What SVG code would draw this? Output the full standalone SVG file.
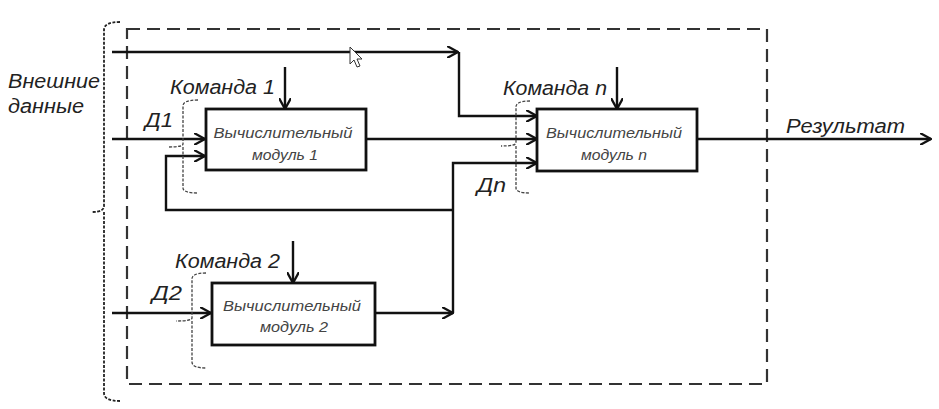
<svg xmlns="http://www.w3.org/2000/svg" width="939" height="409" viewBox="0 0 939 409">
<style>
.ln{fill:none;stroke:#111;stroke-width:2.4}
.box{fill:#fff;stroke:#111;stroke-width:2.8}
.dash{fill:none;stroke:#333;stroke-width:2.2;stroke-dasharray:13 7}
.dot{fill:none;stroke:#444;stroke-width:1.3;stroke-dasharray:3 1.5}
.odot{fill:none;stroke:#222;stroke-width:1.8;stroke-dasharray:3 1.5}
.lbl{font-family:"Liberation Sans",Arial,sans-serif;font-style:italic;font-size:20px;fill:#222}
.mod{font-family:"Liberation Sans",Arial,sans-serif;font-style:italic;font-size:15px;fill:#444;text-anchor:middle}
</style>
<defs>
<marker id="arr" viewBox="0 0 12 12" refX="11" refY="6" markerWidth="12" markerHeight="12" markerUnits="userSpaceOnUse" orient="auto">
<path d="M0,0 L11,6 L0,12" fill="none" stroke="#111" stroke-width="2.3"/>
</marker>
</defs>
<rect width="939" height="409" fill="#fff"/>
<g id="boundary">
<rect class="dash" x="127" y="29" width="640" height="355"/>
<path class="odot" d="M120,22 Q104,22 104,30 L104,206 Q104,212 92,212 M104,212 L104,393 Q104,401 120,401"/>
</g>
<g id="connectors">
<path class="ln" d="M112,52 L458,52" marker-end="url(#arr)"/>
<path class="ln" d="M459,52 L459,116 L537,116" marker-end="url(#arr)"/>
<path class="ln" d="M112,139 L205,139" marker-end="url(#arr)"/>
<path class="ln" d="M453,210 L166,210 L166,156 L205,156" marker-end="url(#arr)"/>
<path class="ln" d="M366,139 L537,139" marker-end="url(#arr)"/>
<path class="ln" d="M453,313 L453,163 L537,163" marker-end="url(#arr)"/>
<path class="ln" d="M375,313 L453,313" marker-end="url(#arr)"/>
<path class="ln" d="M112,313 L211,313" marker-end="url(#arr)"/>
<path class="ln" d="M697,139 L931,139" marker-end="url(#arr)"/>
<path class="ln" d="M285,67 L285,109" marker-end="url(#arr)"/>
<path class="ln" d="M617,67 L617,109" marker-end="url(#arr)"/>
<path class="ln" d="M293,241 L293,283" marker-end="url(#arr)"/>
<path class="dot" d="M198,100 Q183,100 183,106 L183,144 Q183,147 168,147 M183,147 L183,188 Q183,193 198,193"/>
<path class="dot" d="M530,101 Q516,101 516,107 L516,143 Q516,146 501,146 M516,146 L516,188 Q516,193 530,193"/>
<path class="dot" d="M206,273 Q192,273 192,279 L192,318 Q192,321 176,321 M192,321 L192,362 Q192,368 206,368"/>
</g>
<g id="module1">
<rect class="box" x="206" y="109" width="160" height="61"/>
<text class="mod" x="283" y="138" textLength="139" lengthAdjust="spacingAndGlyphs">Вычислительный</text>
<text class="mod" x="285" y="160" textLength="66" lengthAdjust="spacingAndGlyphs">модуль 1</text>
</g>
<g id="modulen">
<rect class="box" x="537" y="109" width="160" height="62"/>
<text class="mod" x="614" y="138" textLength="136" lengthAdjust="spacingAndGlyphs">Вычислительный</text>
<text class="mod" x="614" y="160" textLength="66" lengthAdjust="spacingAndGlyphs">модуль n</text>
</g>
<g id="module2">
<rect class="box" x="212" y="283" width="163" height="62"/>
<text class="mod" x="292" y="311" textLength="138" lengthAdjust="spacingAndGlyphs">Вычислительный</text>
<text class="mod" x="294" y="332" textLength="68" lengthAdjust="spacingAndGlyphs">модуль 2</text>
</g>
<g id="labels">
<text class="lbl" x="8" y="88" textLength="92" lengthAdjust="spacingAndGlyphs">Внешние</text>
<text class="lbl" x="8" y="113" textLength="76" lengthAdjust="spacingAndGlyphs">данные</text>
<text class="lbl" x="170" y="94" textLength="105" lengthAdjust="spacingAndGlyphs">Команда 1</text>
<text class="lbl" x="145" y="127" textLength="28" lengthAdjust="spacingAndGlyphs">Д1</text>
<text class="lbl" x="503" y="95" textLength="104" lengthAdjust="spacingAndGlyphs">Команда n</text>
<text class="lbl" x="477" y="192" textLength="29" lengthAdjust="spacingAndGlyphs">Дn</text>
<text class="lbl" x="786" y="133" textLength="119" lengthAdjust="spacingAndGlyphs">Результат</text>
<text class="lbl" x="175" y="268" textLength="105" lengthAdjust="spacingAndGlyphs">Команда 2</text>
<text class="lbl" x="152" y="300" textLength="30" lengthAdjust="spacingAndGlyphs">Д2</text>
</g>
<path d="M350,47 L350,64 L354,60 L357,67 L360,66 L357,59 L362,59 Z" fill="#fff" stroke="#333" stroke-width="1"/>
</svg>
